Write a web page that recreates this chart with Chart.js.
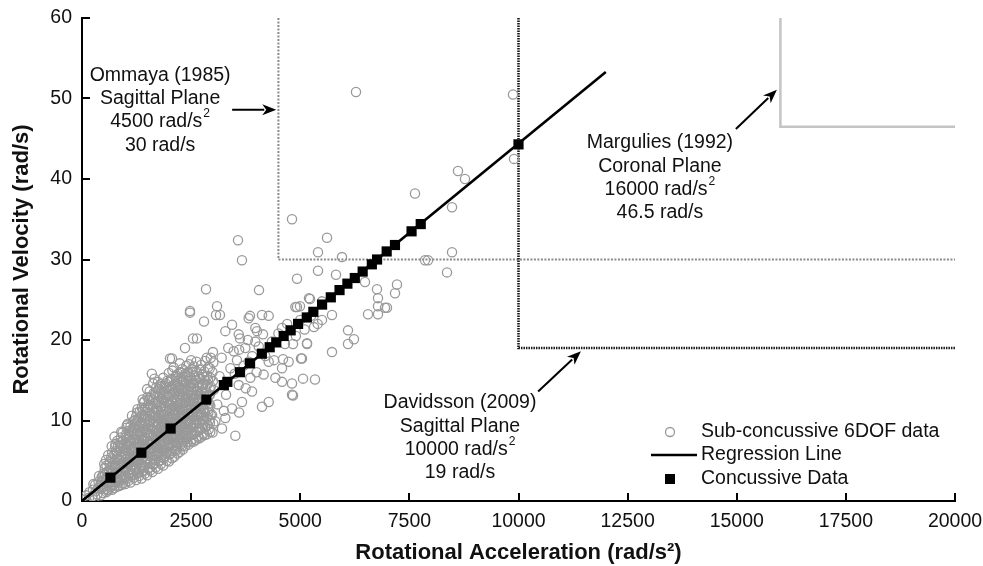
<!DOCTYPE html>
<html>
<head>
<meta charset="utf-8">
<script src="https://cdn.jsdelivr.net/npm/chart.js@4.4.1/dist/chart.umd.min.js"></script>
<style>
  html,body{margin:0;padding:0;background:#fff;}
  #wrap{width:983px;height:566px;}
</style>
</head>
<body>
<div id="wrap"><canvas id="c" width="983" height="566"></canvas></div>
<script>
// ── Data ───────────────────────────────────────────────
const xTicks = [0,2500,5000,7500,10000,12500,15000,17500,20000];
const yTicks = [0,10,20,30,40,50,60];

// sub-concussive 6DOF impacts  [rotational acceleration, rotational velocity]
const subConcussive = [
  [80,0.2],[100,0.7],[160,0.4],[170,1.1],[240,0.6],[250,1.4],[260,2.1],
  [350,0.8],[370,1.6],[380,2.4],[390,3.1],
  [480,1.0],[500,1.8],[510,2.6],[490,3.4],[520,4.1],
  [600,1.3],[620,2.2],[640,3.0],[610,3.8],[630,4.6],[600,5.7],
  [740,1.6],[760,2.4],[730,3.2],[770,4.0],[750,4.9],[740,5.8],[760,6.7],[745,8.0],
  [860,1.9],[880,2.7],[870,3.5],[890,4.4],[860,5.2],[880,6.1],[870,7.0],[890,7.9],
  [990,2.1],[1010,3.0],[980,3.8],[1020,4.7],[1000,5.5],[990,6.4],[1010,7.3],[1000,8.2],[1020,9.1],
  [1110,2.3],[1130,3.2],[1120,4.0],[1140,4.9],[1110,5.7],[1130,6.6],[1120,7.5],[1140,8.4],[1110,9.3],[1145,10.6],
  [1240,2.6],[1260,3.4],[1250,4.3],[1230,5.1],[1270,6.0],[1250,6.9],[1240,7.8],[1260,8.7],[1250,9.6],[1240,10.5],[1270,11.4],
  [1360,2.8],[1380,3.7],[1370,4.5],[1390,5.4],[1360,6.3],[1380,7.1],[1370,8.0],[1390,8.9],[1360,9.8],[1380,10.7],[1370,11.6],[1390,12.6],
  [1490,3.2],[1510,4.0],[1500,4.9],[1480,5.8],[1520,6.6],[1500,7.5],[1490,8.4],[1510,9.3],[1500,10.2],[1480,11.1],[1520,12.0],[1500,12.9],[1490,13.9],
  [1610,3.6],[1630,4.5],[1620,5.3],[1640,6.2],[1610,7.1],[1630,8.0],[1620,8.9],[1640,9.8],[1610,10.7],[1630,11.6],[1620,12.5],[1640,13.4],[1600,15.8],[1630,14.6],
  [1740,4.0],[1760,4.9],[1750,5.8],[1730,6.7],[1770,7.6],[1750,8.5],[1740,9.4],[1760,10.3],[1750,11.2],[1730,12.1],[1770,13.0],[1750,13.9],[1740,14.8],
  [1860,4.4],[1880,5.3],[1870,6.2],[1890,7.1],[1860,8.0],[1880,8.9],[1870,9.8],[1890,10.7],[1860,11.6],[1880,12.5],[1870,13.4],[1890,14.3],[1860,15.3],
  [1990,4.9],[2010,5.8],[2000,6.7],[1980,7.6],[2020,8.5],[2000,9.4],[1990,10.3],[2010,11.2],[2000,12.1],[1980,13.0],[2020,13.9],[2000,14.8],[2016,17.7],[1990,15.9],
  [2110,5.5],[2130,6.4],[2120,7.3],[2140,8.2],[2110,9.1],[2130,10.0],[2120,10.9],[2140,11.8],[2110,12.7],[2130,13.6],[2120,14.5],[2140,15.4],[2100,16.6],
  [2240,6.1],[2260,7.0],[2250,7.9],[2230,8.8],[2270,9.7],[2250,10.6],[2240,11.5],[2260,12.4],[2250,13.3],[2230,14.2],[2270,15.1],[2250,16.0],[2240,17.1],
  [2360,6.8],[2380,7.7],[2370,8.6],[2390,9.5],[2360,10.4],[2380,11.3],[2370,12.2],[2390,13.1],[2360,14.0],[2380,14.9],[2370,15.8],[2390,16.8],[2360,19.0],
  [2490,7.3],[2510,8.2],[2500,9.1],[2480,10.0],[2520,10.9],[2500,11.8],[2490,12.7],[2510,13.6],[2500,14.5],[2480,15.4],[2520,16.4],[2500,17.5],[2474,23.4],
  [2610,7.6],[2630,8.6],[2620,9.6],[2640,10.5],[2610,11.4],[2630,12.3],[2620,13.2],[2640,14.1],[2610,15.0],[2630,16.1],[2620,17.3],[2634,20.2],[2543,20.2],
  [2740,8.0],[2760,9.0],[2750,10.0],[2730,10.9],[2770,11.8],[2750,12.7],[2740,13.6],[2760,14.6],[2750,15.7],[2730,16.9],[2795,22.3],
  [2860,8.3],[2880,9.4],[2870,10.4],[2890,11.4],[2860,13.5],[2880,14.5],[2870,15.5],[2890,16.6],[2860,17.8],[2841,26.3],
  [2990,8.5],[3010,9.6],[2980,10.7],[3020,13.8],[3000,14.9],[2990,16.0],[3010,17.2],[3000,18.5],[3093,24.2],[3070,23.1],[3161,23.1],
  // in-between readings of the dense wedge
  [300,0.5],[310,1.2],[300,2.0],[430,0.7],[440,1.5],[430,2.3],[450,3.0],
  [560,1.1],[570,1.9],[550,2.8],[570,3.6],[560,4.4],[550,5.1],
  [690,1.4],[680,2.0],[700,2.8],[690,3.6],[680,4.4],[700,5.2],[690,6.0],[680,6.8],
  [810,1.8],[820,2.6],[800,3.5],[820,4.3],[810,5.2],[800,6.0],[820,6.8],[810,7.5],
  [940,2.2],[930,3.1],[950,3.9],[940,4.8],[930,5.7],[950,6.6],[940,7.5],[930,8.5],
  [1060,2.5],[1070,3.4],[1050,4.3],[1070,5.1],[1060,6.0],[1050,6.9],[1070,7.8],[1060,8.7],[1050,9.6],
  [1190,2.9],[1180,3.8],[1200,4.6],[1190,5.5],[1180,6.4],[1200,7.3],[1190,8.2],[1180,9.1],[1200,10.0],
  [1310,3.1],[1320,4.0],[1300,4.9],[1320,5.8],[1310,6.7],[1300,7.6],[1320,8.5],[1310,9.4],[1300,10.3],[1320,11.1],
  [1440,3.4],[1430,4.3],[1450,5.2],[1440,6.1],[1430,7.0],[1450,7.9],[1440,8.8],[1430,9.7],[1450,10.6],[1440,11.5],[1430,12.4],
  [1560,3.8],[1570,4.7],[1550,5.6],[1570,6.5],[1560,7.4],[1550,8.3],[1570,9.2],[1560,10.1],[1550,11.0],[1570,11.9],[1560,12.8],[1550,13.6],
  [1690,4.2],[1680,5.1],[1700,6.0],[1690,6.9],[1680,7.8],[1700,8.7],[1690,9.6],[1680,10.5],[1700,11.4],[1690,12.3],[1680,13.2],[1700,14.1],[1660,15.2],
  [1810,4.6],[1820,5.5],[1800,6.4],[1820,7.3],[1810,8.2],[1800,9.1],[1820,10.0],[1810,10.9],[1800,11.8],[1820,12.7],[1810,13.6],[1800,14.5],
  [1940,5.0],[1930,5.9],[1950,6.8],[1940,7.7],[1930,8.6],[1950,9.5],[1940,10.4],[1930,11.3],[1950,12.2],[1940,13.1],[1930,14.0],[1950,14.9],
  [2060,5.3],[2070,6.2],[2050,7.1],[2070,8.0],[2060,8.9],[2050,9.8],[2070,10.7],[2060,11.6],[2050,12.5],[2070,13.4],[2060,14.3],[2050,15.2],[2070,16.2],
  [2190,5.9],[2180,6.8],[2200,7.7],[2190,8.6],[2180,9.5],[2200,10.4],[2190,11.3],[2180,12.2],[2200,13.1],[2190,14.0],[2180,14.9],[2200,15.8],
  [2310,6.4],[2320,7.3],[2300,8.2],[2320,9.1],[2310,10.0],[2300,10.9],[2320,11.8],[2310,12.7],[2300,13.6],[2320,14.5],[2310,15.4],[2300,16.4],
  [2440,7.0],[2430,7.9],[2450,8.8],[2440,9.7],[2430,10.6],[2450,11.5],[2440,12.4],[2430,13.3],[2450,14.2],[2440,15.1],[2430,16.0],[2450,17.0],
  [2560,7.4],[2570,8.3],[2550,9.2],[2570,10.1],[2560,11.0],[2550,11.9],[2570,12.8],[2560,13.7],[2550,14.6],[2570,15.6],[2560,16.7],
  [2690,7.8],[2680,8.8],[2700,9.7],[2690,10.6],[2680,11.5],[2700,12.4],[2690,13.3],[2680,14.2],[2700,15.2],[2690,16.3],
  [2810,8.2],[2820,9.2],[2800,10.1],[2820,11.0],[2810,12.0],[2800,13.0],[2820,14.0],[2810,15.0],[2800,16.1],[2820,17.4],
  [2940,8.6],[2930,9.7],[2950,10.7],[2940,11.8],[2930,13.2],[2950,14.2],[2940,15.3],[2930,16.5],[2950,17.8],
  // more of the solid gray core
  [520,1.5],[545,2.6],[530,3.3],[510,4.6],
  [650,1.7],[675,2.4],[660,3.9],[640,4.9],[665,5.4],
  [775,2.3],[790,2.9],[760,4.4],[800,5.5],[780,6.2],[765,7.1],
  [905,2.0],[890,3.0],[915,4.6],[895,5.5],[910,6.9],[885,7.3],[900,8.6],
  [1035,2.8],[1015,4.1],[1045,4.6],[1025,6.3],[1040,7.1],[1020,8.0],[1030,9.4],
  [1160,3.2],[1145,4.4],[1170,5.4],[1150,6.2],[1165,7.6],[1140,8.6],[1160,9.0],[1175,9.9],
  [1285,3.5],[1265,4.7],[1295,5.3],[1275,6.5],[1300,7.3],[1270,8.3],[1290,9.2],[1280,10.1],[1265,11.0],
  [1410,3.7],[1395,4.2],[1420,5.6],[1400,6.4],[1415,7.7],[1390,8.5],[1405,9.3],[1420,10.5],[1395,11.3],[1410,12.2],
  [1535,4.1],[1515,5.3],[1545,6.1],[1525,7.0],[1540,8.1],[1520,8.9],[1535,9.8],[1545,10.6],[1515,11.6],[1530,12.5],
  [1655,4.7],[1670,5.6],[1645,6.6],[1660,7.4],[1650,8.3],[1675,9.2],[1645,10.3],[1660,11.0],[1670,12.1],[1650,12.9],
  [1785,5.1],[1770,6.0],[1795,7.0],[1780,8.0],[1765,8.8],[1790,9.9],[1775,10.6],[1795,11.6],[1770,12.4],[1785,13.3],[1790,14.2],
  [1905,5.6],[1920,6.5],[1895,7.4],[1915,8.3],[1900,9.3],[1925,10.1],[1890,11.1],[1910,11.8],[1920,12.8],[1900,13.7],[1915,14.6],
  [2035,6.0],[2015,6.9],[2045,7.8],[2030,8.7],[2020,9.7],[2045,10.5],[2025,11.4],[2040,12.3],[2015,13.2],[2035,14.1],[2030,15.0],
  [2160,6.3],[2140,7.2],[2170,8.1],[2150,9.1],[2165,9.9],[2145,10.8],[2160,11.7],[2170,12.6],[2140,13.5],[2155,14.4],[2165,15.6],
  [2285,6.8],[2270,7.6],[2295,8.6],[2280,9.5],[2265,10.3],[2290,11.3],[2275,12.1],[2295,13.0],[2270,13.9],[2285,14.8],[2290,15.9],
  [2410,7.3],[2395,8.3],[2420,9.2],[2400,10.1],[2415,10.9],[2390,11.9],[2405,12.8],[2420,13.7],[2395,14.6],[2410,15.6],
  [2535,7.7],[2520,8.6],[2545,9.5],[2530,10.5],[2515,11.4],[2540,12.3],[2525,13.2],[2545,14.1],[2520,15.0],[2535,16.0],
  [2655,8.0],[2670,9.1],[2645,10.0],[2660,10.9],[2650,11.8],[2675,12.7],[2645,13.6],[2660,14.6],[2670,15.5],
  [2785,8.4],[2770,9.5],[2795,10.5],[2780,11.4],[2765,12.3],[2790,13.3],[2775,14.4],[2795,15.4],
  [2905,8.9],[2920,10.1],[2895,11.0],[2915,12.1],[2900,13.0],[2925,14.0],[2890,15.1],
  [420,1.9],[560,2.5],[700,3.1],[820,3.6],[950,4.2],[1080,4.8],[1200,5.3],[1330,5.9],[1450,6.4],[1580,7.0],
  [1700,7.5],[1830,8.1],[1950,8.7],[2080,9.2],[2200,9.8],[2330,10.3],[2450,10.9],[2580,11.5],[2700,12.0],[2830,12.6],
  [470,3.0],[610,3.5],[760,4.3],[880,5.0],[1010,5.8],[1130,6.3],[1270,7.1],[1390,7.6],[1520,8.3],[1640,8.8],
  [1760,9.6],[1890,10.1],[2010,10.8],[2140,11.3],[2260,12.0],[2390,12.5],[2510,13.2],[2640,13.7],[2760,14.4],
  [570,1.4],[700,1.9],[840,2.3],[970,2.9],[1100,3.4],[1230,3.9],[1360,4.5],[1480,5.0],[1610,5.6],[1740,6.1],
  [1860,6.7],[1990,7.2],[2110,7.8],[2240,8.4],[2370,8.9],[2490,9.5],[2620,10.1],[2740,10.6],
  // sparser band 3000-5500
  [3284,21.1],[3437,21.9],[3590,20.7],[3818,22.7],[3971,21.5],[4124,23.1],[4277,23.0],[4582,21.5],[4888,24.1],
  [3971,19.8],[3742,19.0],[3475,18.6],[3818,17.3],[4277,17.3],[4582,16.5],[4735,17.3],[4162,15.7],[4430,15.3],
  [4582,14.8],[4811,13.2],[4277,12.3],[4124,11.7],[3895,13.6],[3665,12.3],[3437,11.5],[3284,10.3],[3513,8.1],
  [3207,9.0],[3055,9.9],[3590,14.4],[3857,15.3],[3620,20.2],[4009,21.1],[4147,20.7],[4994,24.2],[5223,25.1],
  [5498,24.8],[5155,19.6],[5040,17.7],[4605,17.6],[5338,15.1],[5063,15.2],[3849,23.0],
  [3100,12.0],[3150,15.5],[3300,13.2],[3400,16.5],[3500,15.8],[3550,17.5],[3700,16.8],[3750,14.0],[3900,18.0],
  [4000,16.0],[4050,19.2],[4200,18.0],[4350,19.8],[4400,17.5],[4500,20.8],[4650,19.5],[4700,22.0],[4900,20.5],
  [5000,22.5],[5100,21.3],[5250,23.0],[5400,22.0],[3200,17.8],[3350,19.0],[3600,18.8],[3800,20.0],[3250,11.2],[3600,11.0],
  [5200,25.2],[5727,23.1],[5498,22.5],[5315,21.6],[6094,21.2],[6231,20.1],[6094,19.5],[5727,18.5],[5155,19.5],
  [5017,17.7],[4834,19.5],[4811,14.6],[4834,13.1],[6781,24.2],[6942,24.0],[6781,23.2],[6552,23.2],
  // outliers
  [6277,50.8],[9874,50.5],[9897,42.5],[8614,41.0],[8774,40.0],[7629,38.2],[8477,36.5],[4811,35.0],[5613,32.7],
  [3574,32.4],[3665,29.9],[5407,30.9],[5956,30.3],[7858,29.9],[7927,29.9],[8477,30.9],[8362,28.4],[5407,28.6],
  [4926,27.6],[5819,28.1],[6483,27.2],[6758,26.3],[7216,26.9],[7171,25.8],[6781,25.2],[4055,26.2],[4926,24.1],
  [6987,24.0],[2474,23.6],[2062,17.7]
];

// concussive impacts (fall on the regression line)
const concussive = [
  [650,2.9],[1360,6.0],[2030,9.0],[2850,12.6],[3250,14.4],[3330,14.8],[3620,16.0],[3850,17.1],[4120,18.3],
  [4300,19.1],[4450,19.7],[4620,20.5],[4780,21.2],[4950,22.0],[5150,22.8],[5300,23.5],[5500,24.4],[5700,25.3],
  [5900,26.2],[6080,27.0],[6250,27.7],[6430,28.5],[6640,29.4],[6760,30.0],[6980,31.0],[7170,31.8],[7550,33.5],
  [7760,34.4],[10000,44.3]
];

const regression = [[0,0],[12000,53.3]];

// injury thresholds
const ommaya    = [[4500,60],[4500,30],[20000,30]];
const davidsson = [[10000,60],[10000,19],[20000,19]];
const margulies = [[16000,60],[16000,46.5],[20000,46.5]];

const pts = a => a.map(p => ({x:p[0], y:p[1]}));

// ── Annotations (data units) ───────────────────────────
const notes = [
  {x:1790,  y:52.9, lines:[['Ommaya (1985)'],['Sagittal Plane'],['4500 rad/s','2'],['30 rad/s']]},
  {x:13240, y:44.5, lines:[['Margulies (1992)'],['Coronal Plane'],['16000 rad/s','2'],['46.5 rad/s']]},
  {x:8660,  y:12.2, lines:[['Davidsson (2009)'],['Sagittal Plane'],['10000 rad/s','2'],['19 rad/s']]},
];
const arrows = [
  [[3440,48.6],[4450,48.6]],
  [[14980,46.2],[15920,51.1]],
  [[10450,13.6],[11430,18.6]],
];

const FONT = '"Liberation Sans", Arial, sans-serif';
const FS = 19.5;

function drawLine(ctx, cx, cy, parts) {
  ctx.font = `${FS}px ${FONT}`;
  const w1 = ctx.measureText(parts[0]).width;
  let w2 = 0;
  if (parts[1]) { ctx.font = `${FS*0.62}px ${FONT}`; w2 = ctx.measureText(parts[1]).width + 1; }
  const x0 = cx - (w1 + w2) / 2;
  ctx.font = `${FS}px ${FONT}`;
  ctx.textAlign = 'left'; ctx.textBaseline = 'middle';
  ctx.fillText(parts[0], x0, cy);
  if (parts[1]) {
    ctx.font = `${FS*0.62}px ${FONT}`;
    ctx.fillText(parts[1], x0 + w1 + 1, cy - 8);
  }
}

const overlay = {
  id: 'overlay',
  afterDraw(chart) {
    const {ctx, chartArea: ca, scales: {x, y}} = chart;
    ctx.save();
    // inward tick marks
    ctx.strokeStyle = '#000'; ctx.lineWidth = 2;
    xTicks.slice(1).forEach(v => {
      const px = Math.round(x.getPixelForValue(v));
      ctx.beginPath(); ctx.moveTo(px, ca.bottom); ctx.lineTo(px, ca.bottom - 8); ctx.stroke();
    });
    yTicks.slice(1).forEach(v => {
      const py = Math.round(y.getPixelForValue(v));
      ctx.beginPath(); ctx.moveTo(ca.left, py); ctx.lineTo(ca.left + 8, py); ctx.stroke();
    });

    // arrows
    ctx.fillStyle = '#000'; ctx.lineWidth = 2;
    arrows.forEach(([a, b]) => {
      const x1 = x.getPixelForValue(a[0]), y1 = y.getPixelForValue(a[1]);
      const x2 = x.getPixelForValue(b[0]), y2 = y.getPixelForValue(b[1]);
      const ang = Math.atan2(y2 - y1, x2 - x1), L = 14, W = 5.5;
      ctx.beginPath(); ctx.moveTo(x1, y1);
      ctx.lineTo(x2 - Math.cos(ang) * (L - 2), y2 - Math.sin(ang) * (L - 2)); ctx.stroke();
      ctx.beginPath(); ctx.moveTo(x2, y2);
      ctx.lineTo(x2 - L * Math.cos(ang) + W * Math.sin(ang), y2 - L * Math.sin(ang) - W * Math.cos(ang));
      ctx.lineTo(x2 - (L - 4) * Math.cos(ang), y2 - (L - 4) * Math.sin(ang));
      ctx.lineTo(x2 - L * Math.cos(ang) - W * Math.sin(ang), y2 - L * Math.sin(ang) + W * Math.cos(ang));
      ctx.closePath(); ctx.fill();
    });

    // text blocks
    ctx.fillStyle = '#111';
    notes.forEach(n => {
      const cx = x.getPixelForValue(n.x), cy = y.getPixelForValue(n.y);
      n.lines.forEach((ln, i) => drawLine(ctx, cx, cy + i * 23.4, ln));
    });

    // legend
    const lx = ca.right - 285, tx = ca.right - 254;
    const r1 = ca.bottom - 69, r2 = ca.bottom - 46, r3 = ca.bottom - 22;
    ctx.strokeStyle = '#999'; ctx.lineWidth = 1.3;
    ctx.beginPath(); ctx.arc(lx, r1, 4.5, 0, Math.PI * 2); ctx.stroke();
    ctx.strokeStyle = '#000'; ctx.lineWidth = 2.5;
    ctx.beginPath(); ctx.moveTo(lx - 19, r2); ctx.lineTo(tx - 4, r2); ctx.stroke();
    ctx.fillStyle = '#000'; ctx.fillRect(lx - 5, r3 - 5, 10, 10);
    ctx.fillStyle = '#111'; ctx.font = `${FS}px ${FONT}`;
    ctx.textAlign = 'left'; ctx.textBaseline = 'middle';
    ctx.fillText('Sub-concussive 6DOF data', tx, r1);
    ctx.fillText('Regression Line', tx, r2);
    ctx.fillText('Concussive Data', tx, r3);
    ctx.restore();
  }
};

new Chart(document.getElementById('c'), {
  type: 'scatter',
  data: {
    datasets: [
      {label:'Concussive Data', data:pts(concussive), pointStyle:'rect', pointRadius:7.2,
       backgroundColor:'#000', borderColor:'#000', borderWidth:0},
      {label:'Regression Line', data:pts(regression), showLine:true, pointRadius:0,
       borderColor:'#000', borderWidth:2.6},
      {label:'Sub-concussive 6DOF data', data:pts(subConcussive), pointRadius:4.6,
       backgroundColor:'rgba(0,0,0,0)', borderColor:'#999', borderWidth:1.3},
      {label:'Davidsson', data:pts(davidsson), showLine:true, pointRadius:0,
       borderColor:'#1a1a1a', borderWidth:2.6, borderDash:[1.5,1]},
      {label:'Ommaya', data:pts(ommaya), showLine:true, pointRadius:0,
       borderColor:'#8a8a8a', borderWidth:2, borderDash:[2,1.5]},
      {label:'Margulies', data:pts(margulies), showLine:true, pointRadius:0,
       borderColor:'#c4c4c4', borderWidth:2.5},
    ]
  },
  options: {
    responsive:false, animation:false, devicePixelRatio:1,
    layout:{padding:{left:0, right:28, top:18, bottom:0}},
    plugins:{legend:{display:false}, tooltip:{enabled:false}},
    scales:{
      x:{
        type:'linear', min:0, max:20000,
        afterBuildTicks: s => { s.ticks = xTicks.map(v => ({value:v})); },
        afterFit: s => { s.height = 65; s.paddingLeft = 0; s.paddingRight = 0; },
        grid:{display:false, drawTicks:false},
        border:{display:true, color:'#000', width:2},
        ticks:{color:'#111', padding:9, maxRotation:0, callback: v => String(v), font:{family:FONT, size:FS}},
        title:{display:true, text:'Rotational Acceleration (rad/s²)', color:'#111',
               padding:{top:0, bottom:0}, font:{family:FONT, size:22, weight:'bold'}}
      },
      y:{
        type:'linear', min:0, max:60,
        afterBuildTicks: s => { s.ticks = yTicks.map(v => ({value:v})); },
        afterFit: s => { s.width = 82; s.paddingTop = 0; s.paddingBottom = 0; },
        grid:{display:false, drawTicks:false},
        border:{display:true, color:'#000', width:2},
        ticks:{color:'#111', padding:10, callback: v => String(v), font:{family:FONT, size:FS}},
        title:{display:true, text:'Rotational Velocity (rad/s)', color:'#111',
               padding:{top:9, bottom:0}, font:{family:FONT, size:22, weight:'bold'}}
      }
    }
  },
  plugins:[overlay]
});
</script>
</body>
</html>
